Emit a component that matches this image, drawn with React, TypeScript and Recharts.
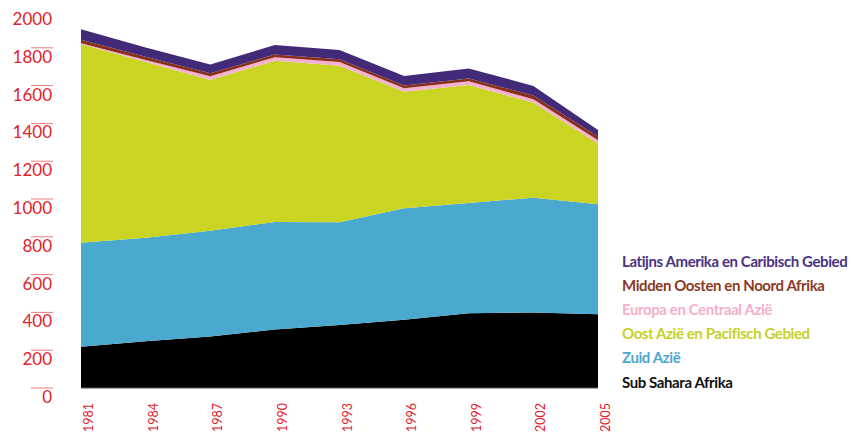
import React from 'react';
import { AreaChart, Area, XAxis, YAxis, Legend } from 'recharts';

const years = ['1981', '1984', '1987', '1990', '1993', '1996', '1999', '2002', '2005'];
const subSaharaAfrika = [218, 247, 272, 310, 333, 361, 395, 400, 390];
const zuidAzie = [551, 548, 560, 568, 544, 590, 584, 607, 582];
const oostAzie = [1051, 930, 798, 854, 828, 617, 624, 503, 322];
const europaCentraalAzie = [4, 10, 20, 18, 20, 18, 20, 18, 17];
const middenOosten = [18, 17, 16, 14, 14, 15, 15, 20, 20];
const latijnsAmerika = [56, 50, 46, 51, 49, 50, 53, 50, 34];
const yTicks = [0, 200, 400, 600, 800, 1000, 1200, 1400, 1600, 1800, 2000];

const series = [
  { key: 'ssa', name: 'Sub Sahara Afrika', values: subSaharaAfrika, fill: '#000000', text: '#111111' },
  { key: 'sa', name: 'Zuid Azië', values: zuidAzie, fill: '#4ba9cf', text: '#4aa8d1' },
  { key: 'eap', name: 'Oost Azië en Pacifisch Gebied', values: oostAzie, fill: '#c9d423', text: '#c5d12a' },
  { key: 'eca', name: 'Europa en Centraal Azië', values: europaCentraalAzie, fill: '#f3b3cf', text: '#f4afcc' },
  { key: 'mena', name: 'Midden Oosten en Noord Afrika', values: middenOosten, fill: '#8a2f1d', text: '#8b3a22' },
  { key: 'lac', name: 'Latijns Amerika en Caribisch Gebied', values: latijnsAmerika, fill: '#432a78', text: '#4a3282' },
];

const data = years.map((year, i) => {
  const row: Record<string, string | number> = { year };
  series.forEach((s) => {
    row[s.key] = s.values[i];
  });
  return row;
});

const RED = '#e2232a';

const YTick = (props: any) => {
  const { y, payload } = props;
  return (
    <g>
      {payload.value < 2000 && (
        <line x1={31} x2={53} y1={y} y2={y} stroke="#ef7b7b" strokeWidth={1} />
      )}
      <text x={52} y={y + 15} textAnchor="end" fill={RED} fontSize={17} fontFamily="Lato">
        {payload.value}
      </text>
    </g>
  );
};

const XTick = (props: any) => {
  const { x, payload } = props;
  const bx = x + 12;
  const by = 403;
  return (
    <text
      x={bx}
      y={by}
      transform={`rotate(-90, ${bx}, ${by})`}
      textAnchor="end"
      fill={RED}
      fontSize={12.5}
      fontFamily="Lato"
    >
      {payload.value}
    </text>
  );
};

const renderLegend = () => {
  const items = [...series].reverse();
  return (
    <div style={{ fontFamily: 'Lato', fontWeight: 700, fontSize: 15, letterSpacing: '-0.4px', textAlign: 'left' }}>
      {items.map((s) => (
        <div key={s.key} style={{ color: s.text, lineHeight: '24.2px', whiteSpace: 'nowrap' }}>
          {s.name}
        </div>
      ))}
    </div>
  );
};

export default function App() {
  return (
    <div style={{ position: 'absolute', left: 0, top: 0, width: 852, height: 432, background: '#fff' }}>
      <AreaChart
        width={852}
        height={432}
        data={data}
        margin={{ top: 10, right: 254, bottom: 0, left: 0 }}
      >
        <XAxis
          dataKey="year"
          height={44}
          axisLine={{ stroke: '#555555', strokeWidth: 1 }}
          tickLine={false}
          tick={<XTick />}
          interval={0}
        />
        <YAxis
          width={81}
          domain={[0, 2000]}
          ticks={yTicks}
          axisLine={false}
          tickLine={false}
          tick={<YTick />}
          interval={0}
        />
        <Legend
          layout="horizontal"
          verticalAlign="middle"
          align="center"
          content={renderLegend}
          wrapperStyle={{ position: 'absolute', left: 622, top: 248.5, width: 230, height: 150 }}
        />
        {series.map((s) => (
          <Area
            key={s.key}
            dataKey={s.key}
            name={s.name}
            stackId="1"
            type="linear"
            stroke="none"
            fill={s.fill}
            fillOpacity={1}
            isAnimationActive={false}
            dot={false}
            activeDot={false}
          />
        ))}
      </AreaChart>
    </div>
  );
}
